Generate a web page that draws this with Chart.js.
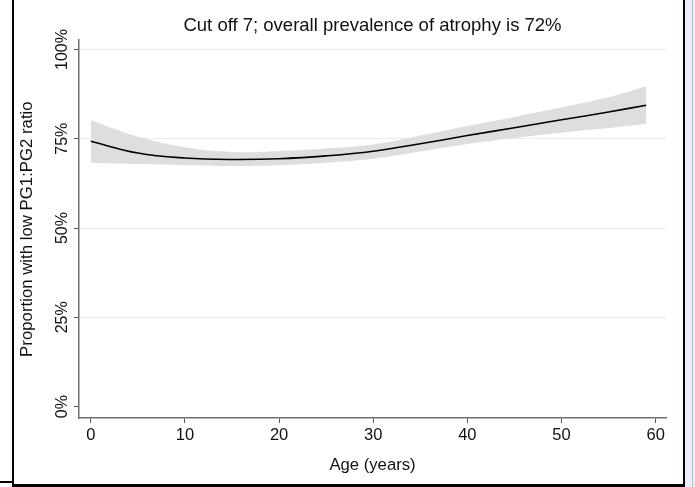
<!DOCTYPE html>
<html>
<head>
<meta charset="utf-8">
<script src="https://cdn.jsdelivr.net/npm/chart.js@4/dist/chart.umd.min.js"></script>
<style>
  html, body { margin: 0; padding: 0; background: #fff; }
  #wrap { position: relative; width: 695px; height: 487px; overflow: hidden; }
  #c { position: absolute; left: 0; top: 0; }
  .fr { position: absolute; background: #000; }
</style>
</head>
<body>
<div id="wrap">
  <canvas id="c" width="695" height="487"></canvas>
  <div class="fr" style="left:12px;top:0;width:2px;height:487px"></div>
  <div class="fr" style="left:0;top:481px;width:13px;height:2px"></div>
  <div class="fr" style="left:12px;top:484px;width:674px;height:3px"></div>
  <div class="fr" style="left:683px;top:0;width:2px;height:487px"></div>
  <div style="position:absolute;left:685px;top:0;width:10px;height:487px;background:#eceff6"></div>
  <div style="position:absolute;left:692px;top:0;width:1px;height:487px;background:#b9bcc4"></div>
</div>
<script>
// age in years
const ages = [0, 5, 10, 15, 20, 25, 30, 35, 40, 45, 50, 55, 59];
// fitted proportion (%)
const fitted = [74.3, 71.0, 69.6, 69.2, 69.4, 70.2, 71.5, 73.6, 75.9, 78.1, 80.3, 82.5, 84.4];
// 95% CI
const upper = [80.2, 75.6, 72.6, 71.3, 71.6, 72.3, 73.4, 75.9, 78.6, 81.1, 83.8, 86.6, 89.7];
const lower = [68.2, 67.9, 67.6, 67.4, 67.6, 68.3, 69.4, 71.4, 73.5, 75.2, 76.7, 78.0, 79.1];

const xTicks = [0, 10, 20, 30, 40, 50, 60];
const yTicks = [0, 25, 50, 75, 100];

const toPts = (arr) => ages.map((a, i) => ({ x: a, y: arr[i] }));

const font = 'Liberation Sans, Arial, Helvetica, sans-serif';

new Chart(document.getElementById('c'), {
  type: 'line',
  data: {
    datasets: [{
      label: 'lower',
      data: toPts(lower),
      borderWidth: 0,
      pointRadius: 0,
      fill: false,
      order: 2,
      tension: 0.4
    }, {
      label: 'upper',
      data: toPts(upper),
      borderWidth: 0,
      pointRadius: 0,
      fill: '-1',
      backgroundColor: '#dedede',
      order: 1,
      tension: 0.4
    }, {
      label: 'fitted',
      data: toPts(fitted),
      borderColor: '#000',
      borderWidth: 1.6,
      pointRadius: 0,
      fill: false,
      order: 0,
      tension: 0.4
    }]
  },
  options: {
    responsive: false,
    animation: false,
    layout: { padding: { left: 0, right: 29, top: 0, bottom: 0 } },
    plugins: {
      legend: { display: false },
      tooltip: { enabled: false },
      title: {
        display: true,
        fullSize: false,
        text: 'Cut off 7; overall prevalence of atrophy is 72%',
        color: '#111',
        font: { family: font, size: 18.5, weight: 'normal' },
        padding: { top: 15, bottom: 3 }
      }
    },
    scales: {
      x: {
        type: 'linear',
        min: -1.25,
        max: 61.1,
        afterBuildTicks: (s) => { s.ticks = xTicks.map(v => ({ value: v })); },
        afterFit: (s) => { s.height = 69; },
        grid: { drawOnChartArea: false, tickLength: 5, tickColor: '#555', tickWidth: 1 },
        border: { color: '#707070', width: 1.5 },
        ticks: { color: '#111', padding: 3, maxRotation: 0, font: { family: font, size: 16.5 } },
        title: {
          display: true,
          text: 'Age (years)',
          color: '#111',
          font: { family: font, size: 16.7 },
          padding: { top: 0, bottom: 12 }
        }
      },
      y: {
        min: -3.2,
        max: 102.6,
        afterBuildTicks: (s) => { s.ticks = yTicks.map(v => ({ value: v })); },
        afterFit: (s) => { s.width = 79; },
        grid: {
          color: (ctx) => ctx.tick && ctx.tick.value === 0 ? 'rgba(0,0,0,0)' : '#e4eef0',
          lineWidth: 1,
          tickLength: 5,
          tickColor: '#555',
          tickWidth: 1
        },
        border: { color: '#707070', width: 1.5 },
        ticks: {
          color: '#111',
          padding: -9,
          crossAlign: 'center',
          minRotation: 90,
          maxRotation: 90,
          font: { family: font, size: 16 },
          callback: (v) => v + '%'
        },
        title: {
          display: true,
          text: 'Proportion with low PG1:PG2 ratio',
          color: '#111',
          font: { family: font, size: 16.8 },
          padding: { top: 16.9, bottom: 0 }
        }
      }
    }
  }
});
</script>
</body>
</html>
